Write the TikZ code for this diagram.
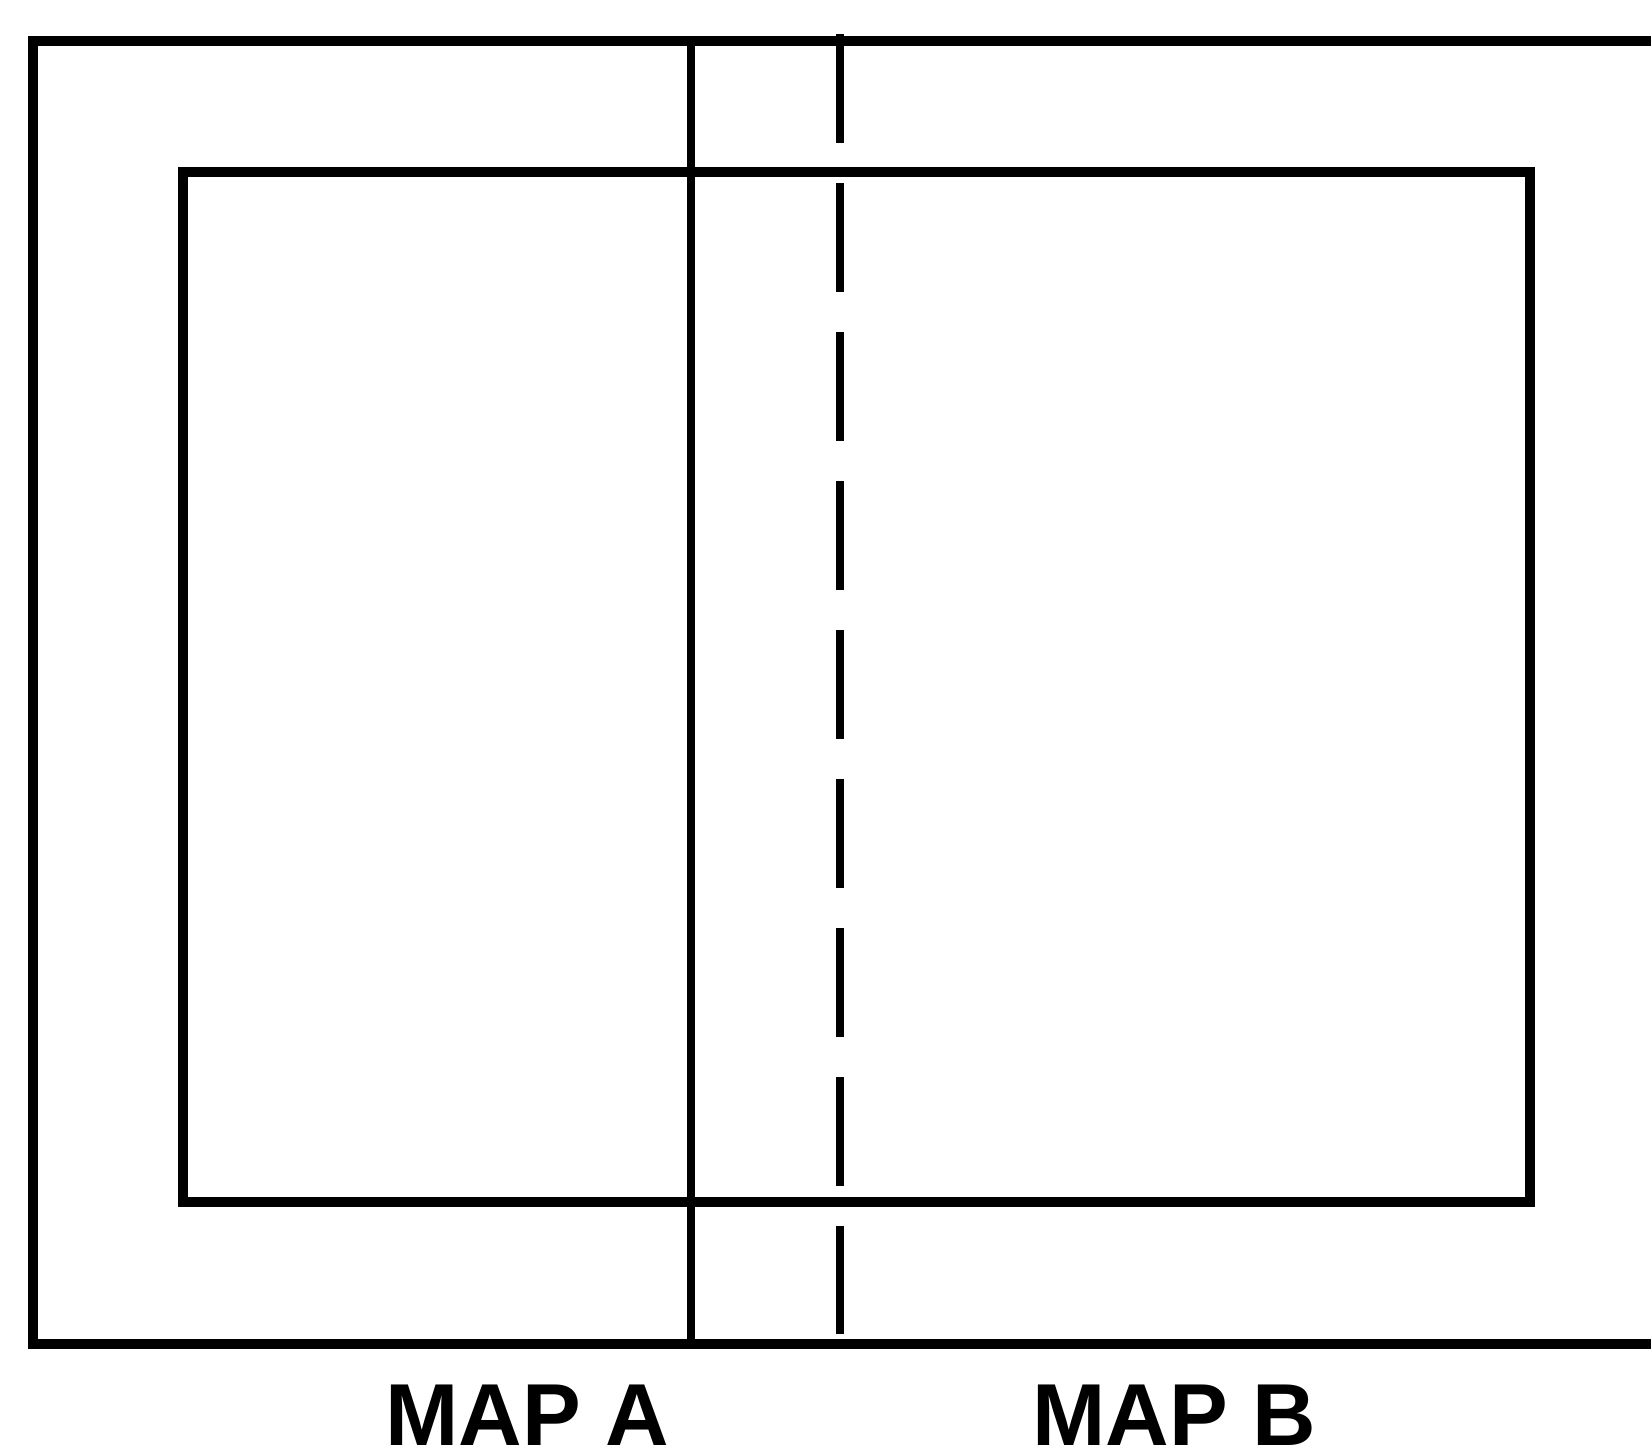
\documentclass[tikz,border=0pt]{standalone}
\usepackage{fontspec}
\setmainfont{Liberation Sans}
\usetikzlibrary{positioning}
\tikzset{
  frame/.style    = {draw, line width=4.6pt, line join=miter},
  divider/.style  = {draw, line width=4.2pt},
  seam/.style     = {draw, line width=4.4pt, dash pattern=on 54.5pt off 20pt},
  maplabel/.style = {font=\fontsize{44}{44}\selectfont\bfseries, anchor=base, inner sep=0pt},
}
\begin{document}
\begin{tikzpicture}[x=0.5pt,y=-0.5pt]
\useasboundingbox (0,0) rectangle (1651,1456);
% sheet outline, open to the right
\draw[frame] (1651,41) -- (33,41) -- (33,1344) -- (1651,1344);
% inner map area
\draw[frame] (183,172) rectangle (1530,1202);
% edge of map A and overlap of map B
\draw[divider] (691,41) -- (691,1344);
\draw[seam] (840,34) -- (840,1334);
\node[maplabel] (mapa) at (527,1445) {MAP A};
\node[maplabel] (mapb) at (1174,1445) {MAP B};
\end{tikzpicture}
\end{document}
